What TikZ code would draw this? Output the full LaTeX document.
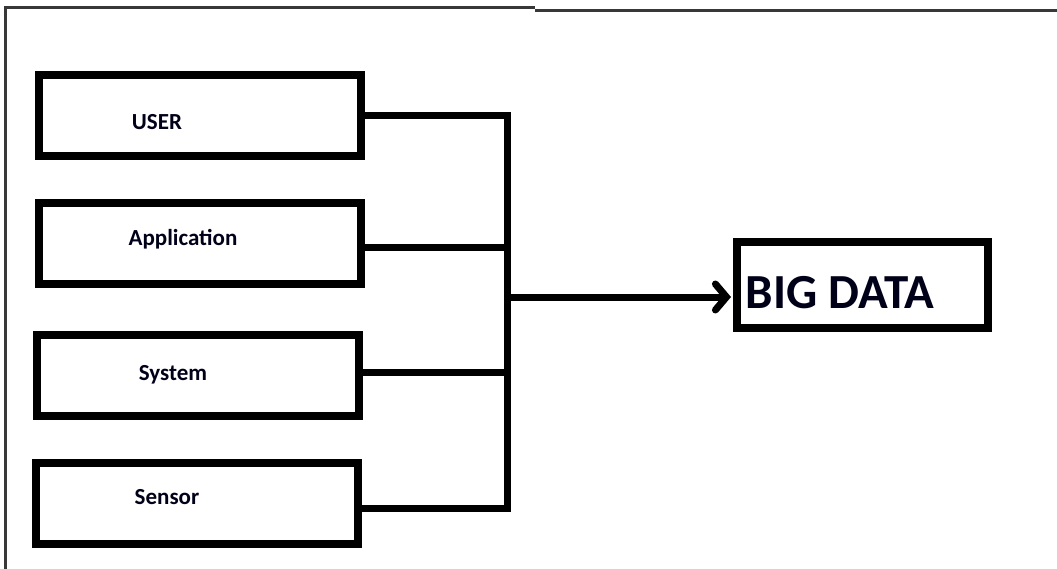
\documentclass[tikz,border=0pt]{standalone}
\usepackage{fontspec}
\setmainfont{Carlito}
\usetikzlibrary{arrows.meta,calc}
\begin{document}
\begin{tikzpicture}[x=1pt,y=-1pt,
  srcbox/.style={draw=black,line width=8pt,fill=white,inner sep=0pt,minimum width=322pt,minimum height=81pt},
  bigbox/.style={draw=black,line width=8pt,fill=white,inner sep=0pt,minimum width=251pt,minimum height=86pt},
  lbl/.style={font=\fontsize{23}{26}\selectfont\bfseries,text=black!90!blue,inner sep=0pt},
  conn/.style={line width=7pt,draw=black,line join=miter},
  frame/.style={line width=3pt,draw=black!78}]
\useasboundingbox (0,0) rectangle (1057,569);
% outer frame (partial, as in the reference)
\coordinate (fbl) at (5.5,569);
\coordinate (ftl) at (5.5,8);
\coordinate (fstep) at (535,8);
\coordinate (fstep2) at (535,11);
\coordinate (ftr) at (1057,11);
\draw[frame] (fbl) -- (ftl) -- (fstep);
\draw[frame] (fstep2) -- (ftr);
% source boxes
\node[srcbox] (user)   at (200,115.5) {};
\node[srcbox] (app)    at (200,243.5) {};
\node[srcbox] (sys)    at (198,375.5) {};
\node[srcbox] (sensor) at (197,503) {};
\node[lbl] (userlbl)   at (157,122) {USER};
\node[lbl] (applbl)    at (183,239) {Application};
\node[lbl] (syslbl)    at (173,375) {System};
\node[lbl] (sensorlbl) at (167,497) {Sensor};
% target box
\node[bigbox] (big) at (862.5,285) {};
\node[font=\fontsize{49}{54}\selectfont\bfseries,text=black!90!blue,inner sep=0pt] (biglbl) at (840,293) {BIG DATA};
% connectors
\coordinate (jtop) at (507,115.5);
\coordinate (jbot) at (507,508);
\coordinate (jmid) at (507,297);
\coordinate (appc) at ($(app.east)+(0,4.5)$);
\coordinate (sysc) at ($(sys.east)+(0,-3.5)$);
\coordinate (senc) at ($(sensor.east)+(0,5)$);
\draw[conn] (user.east) -- (jtop) -- (jbot) -- (senc);
\draw[conn] (appc) -- (appc -| jtop);
\draw[conn] (sysc) -- (sysc -| jtop);
\draw[conn,-{Straight Barb[length=11pt,width=26pt,line cap=round]}] (jmid) -- ([xshift=-2pt]big.west |- jmid);
\end{tikzpicture}
\end{document}
